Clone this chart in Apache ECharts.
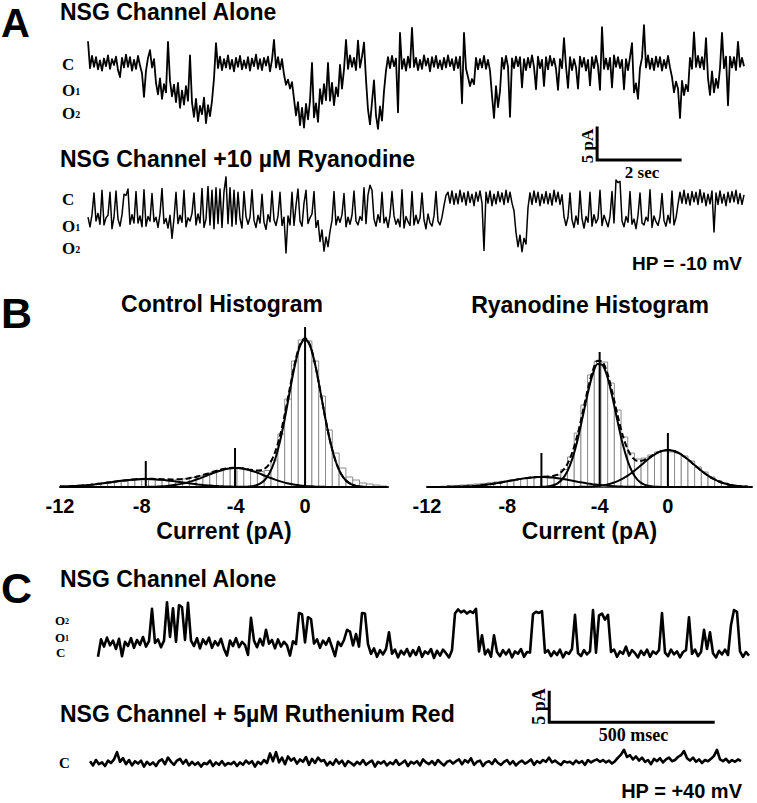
<!DOCTYPE html>
<html><head><meta charset="utf-8">
<script src="https://cdn.jsdelivr.net/npm/echarts@6/dist/echarts.min.js"></script>
<style>html,body{margin:0;padding:0;background:#fff}#chart{width:757px;height:803px}</style>
</head><body><div id="chart"></div>
<script>
// ---------------- DATA ----------------
// Panel A: single-channel current (pA), closed level = 0, one sample every sampleA_sec seconds
const sampleA_sec = 0.0482;
const traceA_control = [
3.4,-0.8,1.1,-0.6,0.9,-1.0,0.4,-1.2,0.7,-0.5,
1.2,-0.9,0.6,-0.3,1.0,-1.1,-2.2,0.8,-0.7,1.3,
-0.6,0.9,-1.2,0.5,-0.9,1.1,-0.4,-1.6,-5.3,-1.2,
0.8,2.0,-0.7,0.6,-3.1,-4.9,-2.4,-5.6,-3.3,-4.6,
3.3,-2.8,-5.2,-3.4,-6.1,-3.1,-7.0,-4.3,-6.5,-3.6,
-5.9,1.2,-6.2,-8.4,-5.6,-9.1,-6.7,-8.0,-5.4,-9.4,
-6.6,-8.3,-5.9,-2.4,3.1,-0.8,1.0,-1.1,0.6,-0.7,
1.2,-0.9,0.5,-1.3,0.8,-0.6,1.1,-1.0,0.4,-0.8,
0.9,-1.2,0.7,-0.5,1.3,-0.9,0.6,-1.1,0.8,-0.4,
1.0,-1.3,0.5,3.6,-0.7,0.9,-1.0,0.6,-1.8,-3.4,
-2.6,-4.0,-3.0,-5.6,-8.2,-6.1,-9.7,-7.0,-10.1,-6.4,
-8.8,-5.9,0.0,-8.5,-6.3,-9.2,-4.1,-6.4,-3.3,-5.8,
0.0,-5.9,-3.1,-6.6,-3.8,-5.2,-0.3,-4.0,-1.0,3.6,
-0.9,1.2,-0.6,0.8,-1.1,3.5,-0.7,1.0,3.2,-2.6,
-7.3,-9.6,-6.1,-2.7,-8.2,-10.3,-6.8,-9.0,-4.4,-1.2,
0.9,-0.8,1.1,-0.5,0.7,-7.7,4.7,-0.9,0.6,-1.2,
1.0,-0.7,5.5,-0.6,0.8,-1.1,0.5,-0.9,1.2,-0.4,
0.7,-1.3,0.9,-0.6,1.1,-0.8,0.4,-1.0,0.8,-0.7,
1.2,-0.5,0.6,-1.1,0.9,-0.8,1.0,-6.3,4.7,-0.9,
-2.2,-3.6,-2.5,-3.3,0.8,-1.0,0.6,-0.7,1.1,-0.9,
0.5,-1.2,-5.1,-8.6,-3.6,-6.9,-4.4,0.8,-0.9,1.1,
-0.6,-8.4,0.7,-0.8,1.0,-0.5,0.9,-3.8,0.6,-1.1,
0.8,-0.7,1.2,-0.6,-4.1,1.0,-0.8,0.5,-3.6,0.9,
-1.0,1.1,-0.4,0.7,-0.9,-4.2,0.6,-0.8,3.9,-0.5,
-3.9,0.9,-1.1,0.6,-0.7,-4.0,1.0,-0.6,0.8,-1.2,
0.5,-3.5,0.9,-0.8,1.1,-0.5,-4.2,5.6,-0.9,0.7,
-1.0,0.8,-3.8,1.2,-0.6,0.9,-0.8,0.5,-4.1,0.6,
-1.1,0.9,3.1,-4.6,-3.2,-5.6,-0.8,0.8,5.9,-0.7,
1.2,-0.9,0.7,-1.1,1.0,-0.6,0.9,-1.2,0.5,-0.8,
1.1,-0.7,-2.2,-4.6,-2.9,-4.0,-8.6,-2.8,-5.0,-3.4,
-4.4,0.8,-0.9,4.8,-0.6,1.1,-0.7,0.9,-1.0,3.9,
-2.4,-5.0,-1.3,-4.6,-2.5,-3.9,-0.8,4.7,-0.8,1.0,
-6.6,1.0,-0.7,0.9,-1.1,3.3,-0.6,0.8,-0.5];
const traceA_ryanodine = [
-3.0,-4.5,-2.6,0.8,-3.6,-2.4,-4.1,1.2,-4.2,-3.1,
-2.7,0.9,-4.8,-3.0,1.1,-3.3,-4.4,-2.6,0.6,0.4,
1.4,-4.1,-2.6,-3.9,1.0,-3.9,-2.8,-4.5,1.3,-4.4,
-2.9,-3.6,0.7,-3.7,-3.0,-4.6,-2.5,1.5,-4.0,-3.2,
-4.7,-2.7,-6.3,-3.2,0.9,-4.0,-2.7,-3.8,1.2,-4.5,
-3.1,-3.6,-2.4,0.8,-4.2,-2.5,-3.9,1.5,-4.6,-3.3,
1.8,-4.2,1.2,-4.8,1.6,-4.0,1.4,-4.6,1.0,3.3,
-4.0,1.6,-4.4,1.2,-4.1,0.9,-3.2,-4.7,1.0,-2.9,
-4.1,-3.0,1.3,-3.5,-4.6,-2.7,-3.9,0.6,-3.8,-4.9,
-2.6,-3.7,1.1,-3.4,-4.3,-2.8,0.9,-4.3,-3.0,-8.6,
-2.8,-4.2,0.9,-4.3,-1.2,1.4,-3.6,-4.4,-0.8,1.2,
-4.0,-3.1,-2.5,1.0,-4.6,-3.5,-6.8,-5.0,-8.3,-6.1,
-7.6,-5.2,-3.5,1.0,-4.2,-2.9,-3.8,-2.6,0.7,-4.5,
-3.0,-4.1,-2.7,1.1,-3.6,-4.2,-2.9,-3.5,1.6,-4.0,
0.5,2.0,1.2,-3.3,-4.4,-2.6,-3.8,0.9,-3.9,-3.0,
-4.6,-2.7,1.0,-2.8,-4.1,-3.3,-4.5,1.3,-4.7,-2.9,
-3.7,-4.3,1.0,-4.2,-2.7,-4.0,-3.1,0.8,-3.4,-4.8,
-2.5,-3.9,-4.4,-2.8,1.0,-3.6,-4.2,-3.0,-1.2,0.4,
0.9,-0.8,1.1,-1.0,0.7,-0.9,1.2,-0.6,0.8,-1.1,
1.0,-0.7,0.6,-1.2,0.9,-0.5,1.1,-0.8,-8.2,0.9,
-0.8,1.1,-1.2,0.6,-0.9,1.0,-0.6,0.8,-1.0,1.2,
-0.7,0.9,-0.8,-2.0,-5.4,-7.6,-5.8,-8.4,-6.3,-7.2,
-1.5,0.8,-1.0,1.1,-0.7,0.9,-1.2,0.6,-0.8,1.0,
-0.9,0.7,-1.1,1.2,-0.6,0.9,-1.0,0.5,-2.9,-4.3,
-3.0,0.8,-3.4,-4.6,-2.8,-4.1,1.1,-3.2,-4.7,-2.9,
-3.8,0.9,-4.4,-2.6,-3.9,-3.2,1.2,-4.3,-2.7,-3.6,
-4.5,-2.9,1.0,-3.9,2.8,2.4,2.6,-3.6,-4.5,-2.9,
-3.8,1.0,-4.1,-3.3,-4.8,-2.7,0.8,-3.9,-4.2,-3.0,
-3.6,1.3,-4.6,-2.8,-3.7,-4.3,-2.9,0.7,-3.5,-4.4,
-2.7,-3.9,1.1,-4.2,-3.1,-1.0,0.9,-0.8,1.2,-0.9,
0.7,-1.1,1.0,-0.6,0.9,-1.0,1.3,-0.7,0.8,-1.2,
0.6,-0.9,1.1,-5.3,0.8,-1.0,1.1,-0.8,0.6,-1.2,
0.9,-0.7,1.0,-0.6,1.2,-0.9,0.7,-1.0,0.5];

// Panel C: current (pA), closed = 0, one sample every sampleC_ms milliseconds
const sampleC_ms = 9.146;
const traceC_control = [
-0.3,2.6,1.4,2.9,1.6,2.4,1.0,2.7,-0.2,2.2,
1.5,2.8,1.2,2.5,1.7,3.0,1.4,2.3,7.7,2.0,
2.6,1.3,2.4,8.8,3.0,7.8,2.2,8.3,8.0,2.5,
8.7,2.4,1.5,2.8,1.1,2.6,1.8,2.9,1.2,2.3,
1.6,2.7,1.0,-0.1,2.4,1.5,2.8,1.3,2.2,1.7,
0.0,6.2,2.4,1.3,2.7,1.6,4.2,1.9,2.5,1.1,
2.6,1.4,2.2,1.6,-0.1,2.3,1.8,7.0,6.8,2.1,
6.3,6.0,1.9,2.6,1.2,2.4,1.7,2.8,1.3,-0.2,
2.2,1.5,2.5,4.2,3.9,1.6,3.5,1.4,7.0,6.9,
1.8,0.2,1.1,-0.3,0.8,0.1,1.0,3.8,0.2,0.9,
-0.4,0.7,0.1,1.0,-0.2,0.8,0.0,1.3,-0.3,0.6,
0.2,1.0,-0.5,0.7,-0.1,0.9,0.3,-0.4,0.8,6.9,
7.6,7.1,7.4,6.9,7.3,7.0,7.7,0.6,3.3,0.1,
0.9,-0.3,3.3,0.5,-0.2,0.8,0.1,0.9,-0.4,0.6,
0.2,1.0,-0.3,0.5,0.4,6.8,7.2,7.0,7.3,0.4,
0.8,-0.2,0.6,0.0,0.9,-0.4,0.5,0.2,1.0,6.7,
0.3,-0.2,0.8,0.1,0.6,7.5,0.4,6.6,6.9,5.9,
6.7,0.5,0.9,-0.3,0.6,0.2,1.4,-0.1,0.8,0.3,
-0.4,0.7,0.0,0.9,-0.3,0.6,0.2,0.8,7.0,0.4,
-0.2,0.9,0.1,0.6,-0.4,0.5,0.8,6.3,0.2,0.9,
-0.2,0.5,4.2,1.0,3.8,0.3,-0.4,0.7,0.1,0.9,
0.0,5.0,7.5,7.2,0.6,-0.3,0.5,-0.1];
const traceC_ruthenium = [
0.3,-0.4,0.5,-0.2,0.1,-0.5,0.4,0.0,0.6,1.8,
0.2,0.8,-0.2,0.5,-0.4,0.3,-0.1,0.4,-0.6,0.2,
-0.3,0.1,-0.5,0.3,0.6,-0.2,0.9,0.2,-0.3,0.4,
0.7,-0.1,0.5,-0.4,0.2,-0.3,0.1,-0.6,0.0,-0.2,
0.4,-0.5,0.1,-0.3,0.3,-0.4,0.0,-0.2,0.2,-0.5,
0.1,-0.3,0.4,-0.1,0.3,-0.6,0.2,-0.2,0.5,0.0,
1.6,0.3,1.8,0.1,0.9,-0.2,1.1,0.4,0.8,-0.1,
0.6,0.2,1.0,-0.3,0.7,0.0,0.9,0.3,0.5,-0.4,
0.2,-0.3,0.6,-0.1,0.4,-0.5,0.3,0.0,-0.4,0.2,
-0.2,0.5,-0.3,0.1,0.4,-0.6,0.2,-0.1,0.3,-0.4,
0.1,-0.2,0.5,-0.3,0.0,0.4,-0.5,0.2,-0.1,0.3,
-0.4,0.6,0.1,-0.2,0.3,-0.3,0.5,0.0,-0.4,0.2,
0.4,-0.1,0.3,0.6,-0.2,0.5,0.1,0.8,-0.3,0.2,
0.4,-0.5,0.1,0.3,-0.2,0.6,0.0,-0.3,0.2,0.5,
-0.2,0.3,-0.4,0.1,0.4,-0.1,0.2,0.6,-0.3,0.3,
0.0,0.5,0.2,0.9,0.1,0.4,0.0,-0.3,0.3,0.1,
0.2,-0.2,0.4,0.0,0.3,-0.3,0.5,0.1,0.4,0.6,
0.2,0.5,0.1,0.4,-0.1,0.3,0.9,1.4,2.2,1.0,
1.3,0.6,1.1,0.4,0.9,0.2,0.5,-0.2,0.7,0.3,
0.8,0.1,0.6,0.9,0.3,0.5,1.0,1.3,2.0,0.8,
0.4,0.9,0.2,0.6,0.0,0.5,0.3,0.7,1.2,2.2,
0.6,0.3,0.7,0.1,0.5,0.2,0.6,0.3];

// Panel B: amplitude histograms (current in pA)
const histX = [-12,-11.75,-11.5,-11.25,-11,-10.75,-10.5,-10.25,-10,-9.75,-9.5,-9.25,-9,-8.75,-8.5,-8.25,-8,-7.75,-7.5,-7.25,-7,-6.75,-6.5,-6.25,-6,-5.75,-5.5,-5.25,-5,-4.75,-4.5,-4.25,-4,-3.75,-3.5,-3.25,-3,-2.75,-2.5,-2.25,-2,-1.75,-1.5,-1.25,-1,-0.75,-0.5,-0.25,0,0.25,0.5,0.75,1,1.25,1.5,1.75,2,2.25,2.5,2.75,3,3.25,3.5,3.75,4];
const ctlFitO2 = [0.38,0.54,0.75,1.02,1.36,1.78,2.27,2.83,3.46,4.14,4.85,5.56,6.24,6.84,7.35,7.73,7.94,8.0,7.88,7.59,7.16,6.61,5.97,5.28,4.57,3.87,3.2,2.6,2.06,1.6,1.22,0.9,0.66,0.47,0.33,0.22,0.15,0.1,0.06,0.04,0.02,0.01,0,0,0,0,0,0,0,0,0,0,0,0,0,0,0,0,0,0,0,0,0,0,0];
const ctlFitO1 = [0,0,0,0,0,0,0,0,0,0,0,0,0,0.01,0.03,0.05,0.09,0.15,0.26,0.43,0.7,1.08,1.64,2.39,3.39,4.65,6.17,7.94,9.89,11.94,13.95,15.8,17.33,18.42,18.95,18.89,18.24,17.06,15.45,13.56,11.52,9.49,7.57,5.84,4.37,3.17,2.22,1.51,1.0,0.63,0.39,0.23,0.14,0.08,0.04,0.02,0.01,0,0,0,0,0,0,0,0];
const ctlFitClosed = [0,0,0,0,0,0,0,0,0,0,0,0,0,0,0,0,0,0,0,0,0,0,0,0,0,0,0,0,0,0,0,0,0,0,0,0,0.1,0.4,1.1,2.8,6.5,13.5,25.5,43.7,67.8,95.4,121.7,140.9,148,140.9,121.7,95.4,67.8,43.7,25.5,13.5,6.5,2.8,1.1,0.4,0.1,0,0,0,0];
const ctlFitSum = [0.38,0.54,0.75,1.02,1.36,1.78,2.27,2.83,3.46,4.14,4.85,5.56,6.24,6.85,7.38,7.78,8.03,8.15,8.14,8.02,7.86,7.69,7.61,7.67,7.96,8.52,9.37,10.54,11.95,13.54,15.17,16.7,17.99,18.89,19.28,19.11,18.49,17.56,16.61,16.4,18.04,23.0,33.07,49.54,72.17,98.57,123.92,142.41,149,141.53,122.09,95.63,67.94,43.78,25.54,13.52,6.51,2.8,1.1,0.4,0.1,0,0,0,0];
const ryaFitO2 = [0.02,0.03,0.05,0.08,0.13,0.21,0.32,0.48,0.69,0.98,1.35,1.83,2.41,3.1,3.89,4.76,5.69,6.63,7.55,8.38,9.09,9.61,9.92,10.0,9.83,9.43,8.82,8.06,7.19,6.26,5.31,4.4,3.56,2.81,2.16,1.63,1.19,0.85,0.6,0.41,0.27,0.18,0.11,0.07,0.04,0.03,0.02,0.01,0,0,0,0,0,0,0,0,0,0,0,0,0,0,0,0,0];
const ryaFitO1 = [0,0,0,0,0,0,0,0,0,0,0,0,0,0,0,0,0,0,0,0,0,0,0.06,0.19,0.56,1.5,3.6,8.0,16.0,28.9,47.1,69.6,93.0,112.4,123.0,121.8,109.1,88.4,64.9,43.0,25.9,14.0,6.9,3.1,1.2,0.45,0.15,0.05,0.01,0,0,0,0,0,0,0,0,0,0,0,0,0,0,0,0];
const ryaFitClosed = [0,0,0,0,0,0,0,0,0,0,0,0,0,0,0,0,0,0,0,0,0,0,0,0,0,0,0,0.01,0.02,0.05,0.09,0.18,0.33,0.58,0.99,1.62,2.58,3.95,5.82,8.27,11.3,14.95,19.0,23.3,27.5,31.3,34.4,36.3,37,36.3,34.4,31.3,27.5,23.3,19.0,14.95,11.3,8.27,5.82,3.95,2.58,1.62,0.99,0.58,0.33];
const ryaFitSum = [0.02,0.03,0.05,0.08,0.13,0.21,0.32,0.48,0.69,0.98,1.35,1.83,2.41,3.1,3.89,4.76,5.69,6.63,7.55,8.38,9.09,9.61,9.98,10.19,10.39,10.93,12.42,16.07,23.21,35.21,52.5,74.18,96.89,115.79,126.15,125.05,112.87,93.2,71.32,51.68,37.47,29.13,26.01,26.47,28.74,31.78,34.57,36.36,37.01,36.3,34.4,31.3,27.5,23.3,19.0,14.95,11.3,8.27,5.82,3.95,2.58,1.62,0.99,0.58,0.33];
const histBinStart = -12;
const histBinWidth = 1 / 3;
const ctlCounts = [0.5,0.8,1.2,1.8,2.3,2.8,3.4,4.2,5.2,5.8,6.4,6.9,7.2,7.0,6.8,6.6,6.9,7.4,8.2,9.6,11.2,12.8,14.6,16.4,17.8,18.6,18.3,17.2,15.8,15.4,16.5,27,53,88,126,147,146,126,91,57,34,19,10,7,4,3,2,1];
const ryaCounts = [0.3,0.5,0.8,1.2,1.6,2.0,2.6,3.0,3.6,4.3,5.0,5.8,6.6,7.6,8.6,9.6,10.4,10.8,10.6,12.0,17.5,30,54,82,112,126,125,104,77,50,34,28,29,32,35,36,35,34,31,26,20,15,10,6.5,4,2.5,1.3,0.6];
const ctlPeakMarks = [[0, 160], [-3.43, 39], [-7.8, 26]];
const ryaPeakMarks = [[0, 54], [-3.4, 135], [-6.3, 34]];
const histTickValues = [-12, -8, -3.4, 0];
const histTickLabels = ['-12', '-8', '-4', '0'];
// scale bars
const scaleBarA = { t0: 12.27, i0: -15.16, dt: 2, di: 5 };
const scaleBarC = { t0: 1400, i0: 6.8, dt: 500, di: 5 };

// ---------------- CHART ----------------
const SANS = '"Liberation Sans", Arial, Helvetica, sans-serif';
const SERIF = '"Liberation Serif", "Times New Roman", serif';
const chart = echarts.init(document.getElementById('chart'), null, { renderer: 'svg' });

function traceSeries(arr, dt, idx, w) {
  return { type: 'line', xAxisIndex: idx, yAxisIndex: idx, data: arr.map((v, i) => [i * dt, v]),
    symbol: 'none', silent: true, clip: false,
    lineStyle: { color: '#000', width: w, join: 'round' } };
}
function scaleSeries(sb, idx) {
  return { type: 'line', xAxisIndex: idx, yAxisIndex: idx, symbol: 'none', silent: true, clip: false,
    data: [[sb.t0, sb.i0 + sb.di], [sb.t0, sb.i0], [sb.t0 + sb.dt, sb.i0]],
    lineStyle: { color: '#000', width: 3, cap: 'square', join: 'miter' } };
}
function fitSeries(ys, idx, dashed) {
  return { type: 'line', xAxisIndex: idx, yAxisIndex: idx, data: histX.map((x, i) => [x, ys[i]]),
    symbol: 'none', smooth: 0.3, silent: true, z: dashed ? 4 : 3,
    lineStyle: { color: '#000', width: 2, type: dashed ? [6, 3] : 'solid' } };
}
function barSeries(counts, idx) {
  return { type: 'custom', xAxisIndex: idx, yAxisIndex: idx, silent: true, z: 1,
    data: counts.map((h, k) => [histBinStart + k * histBinWidth, histBinStart + (k + 1) * histBinWidth, h]),
    encode: { x: [0, 1], y: 2 },
    renderItem: function (params, api) {
      const p0 = api.coord([api.value(0), api.value(2)]);
      const p1 = api.coord([api.value(1), 0]);
      return { type: 'rect', shape: { x: p0[0], y: p0[1], width: p1[0] - p0[0], height: p1[1] - p0[1] },
        style: { fill: '#fff', stroke: '#8c8c8c', lineWidth: 1 } };
    } };
}
function peakSeries(marks, idx) {
  return { type: 'custom', xAxisIndex: idx, yAxisIndex: idx, silent: true, z: 5, data: marks,
    encode: { x: 0, y: 1 },
    renderItem: function (params, api) {
      const a = api.coord([api.value(0), 0]);
      const b = api.coord([api.value(0), api.value(1)]);
      return { type: 'line', shape: { x1: a[0], y1: a[1], x2: b[0], y2: b[1] },
        style: { stroke: '#000', lineWidth: 2 } };
    } };
}
function histXAxis(idx, max) {
  return { type: 'value', gridIndex: idx, min: -12, max: max,
    axisLine: { show: true, onZero: false, lineStyle: { color: '#000', width: 2 } },
    axisTick: { show: false }, splitLine: { show: false },
    axisLabel: { customValues: histTickValues, hideOverlap: false,
      formatter: v => histTickLabels[histTickValues.indexOf(v)],
      fontSize: 20, fontWeight: 'bold', fontFamily: SANS, color: '#000', margin: 9 },
    name: 'Current (pA)', nameLocation: 'middle', nameGap: 32,
    nameTextStyle: { fontSize: 23, fontWeight: 'bold', fontFamily: SANS, color: '#000' } };
}
function hiddenAxis(idx, min, max) {
  return { type: 'value', gridIndex: idx, min: min, max: max, show: false };
}
function txt(text, x, y, size, opt) {
  opt = opt || {};
  const al = opt.align || 'left';
  return { type: 'text', x: x, y: y, rotation: opt.rot || 0, silent: true,
    style: { text: text, x: 0, y: 0, fill: '#000', lineHeight: opt.lh || Math.round(size * 0.85),
      fontSize: size, fontWeight: 'bold', fontFamily: opt.serif ? SERIF : SANS,
      align: al, textAlign: al, verticalAlign: 'middle', textVerticalAlign: 'middle' } };
}
function lvl(sub, x, y, size) {
  const lh = Math.round(size * 0.75);
  return { type: 'text', x: x, y: y, silent: true,
    style: { text: '{o|O}{s|' + sub + '}', x: 0, y: 0, fill: '#000', align: 'left', textAlign: 'left',
      verticalAlign: 'middle', textVerticalAlign: 'middle',
      rich: { o: { fontSize: size, lineHeight: lh, fontWeight: 'bold', fontFamily: SERIF, fill: '#000' },
              s: { fontSize: Math.round(size * 0.6), lineHeight: lh, fontWeight: 'bold', fontFamily: SERIF, fill: '#000', verticalAlign: 'bottom' } } } };
}

const tAmax = (traceA_control.length - 1) * sampleA_sec;
const tCmax = (traceC_control.length - 1) * sampleC_ms;

chart.setOption({
  animation: false,
  backgroundColor: '#fff',
  grid: [
    { left: 88, top: 31, width: 656, height: 140.8 },
    { left: 88, top: 172.4, width: 656, height: 89.6 },
    { left: 60, top: 327, width: 328, height: 160 },
    { left: 427, top: 327, width: 325, height: 160 },
    { left: 98, top: 595, width: 651, height: 78 },
    { left: 90, top: 685, width: 651, height: 96 }
  ],
  xAxis: [
    hiddenAxis(0, 0, tAmax), hiddenAxis(1, 0, (traceA_ryanodine.length - 1) * sampleA_sec),
    histXAxis(2, 4.06), histXAxis(3, 4.19),
    hiddenAxis(4, 0, tCmax), hiddenAxis(5, 0, (traceC_ruthenium.length - 1) * sampleC_ms)
  ],
  yAxis: [
    hiddenAxis(0, -17, 5), hiddenAxis(1, -10, 4),
    hiddenAxis(2, 0, 160), hiddenAxis(3, 0, 160),
    hiddenAxis(4, -3, 10), hiddenAxis(5, -3, 13)
  ],
  series: [
    traceSeries(traceA_control, sampleA_sec, 0, 1.8),
    scaleSeries(scaleBarA, 0),
    traceSeries(traceA_ryanodine, sampleA_sec, 1, 1.5),
    barSeries(ctlCounts, 2), fitSeries(ctlFitO2, 2), fitSeries(ctlFitO1, 2), fitSeries(ctlFitClosed, 2),
    fitSeries(ctlFitSum, 2, true), peakSeries(ctlPeakMarks, 2),
    barSeries(ryaCounts, 3), fitSeries(ryaFitO2, 3), fitSeries(ryaFitO1, 3), fitSeries(ryaFitClosed, 3),
    fitSeries(ryaFitSum, 3, true), peakSeries(ryaPeakMarks, 3),
    traceSeries(traceC_control, sampleC_ms, 4, 2.6),
    traceSeries(traceC_ruthenium, sampleC_ms, 5, 2.6),
    scaleSeries(scaleBarC, 5)
  ],
  graphic: [
    txt('A', 1, 23, 40, { lh: 34 }),
    txt('NSG Channel Alone', 60, 11.5, 23, { lh: 19 }),
    txt('C', 62, 64, 17, { serif: true }), lvl('1', 62, 90, 17), lvl('2', 62, 113, 17),
    txt('NSG Channel +10 \u00b5M Ryanodine', 60, 158.5, 23),
    txt('C', 62, 199, 17, { serif: true }), lvl('1', 62, 226, 17), lvl('2', 62, 248, 17),
    txt('5 pA', 587, 146, 17, { serif: true, align: 'center', rot: Math.PI / 2 }),
    txt('2 sec', 642, 172.5, 17, { serif: true, align: 'center' }),
    txt('HP = -10 mV', 742, 263, 19, { align: 'right' }),
    txt('B', 1, 313, 43, { lh: 34 }),
    txt('Control Histogram', 222, 304, 23, { align: 'center' }),
    txt('Ryanodine Histogram', 590, 305, 23, { align: 'center' }),
    txt('C', 1, 588, 43, { lh: 34 }),
    txt('NSG Channel Alone', 60, 578.5, 23),
    lvl('2', 55, 620, 13), lvl('1', 55, 637, 13), txt('C', 56, 652.5, 13, { serif: true, lh: 10 }),
    txt('NSG Channel + 5\u00b5M Ruthenium Red', 60, 713.5, 23),
    txt('C', 59, 763, 15, { serif: true }),
    txt('5 pA', 539, 706.5, 18, { serif: true, align: 'center', rot: Math.PI / 2 }),
    txt('500 msec', 633.5, 735, 18, { serif: true, align: 'center' }),
    txt('HP = +40 mV', 742, 791, 20, { align: 'right' })
  ]
});
</script></body></html>
